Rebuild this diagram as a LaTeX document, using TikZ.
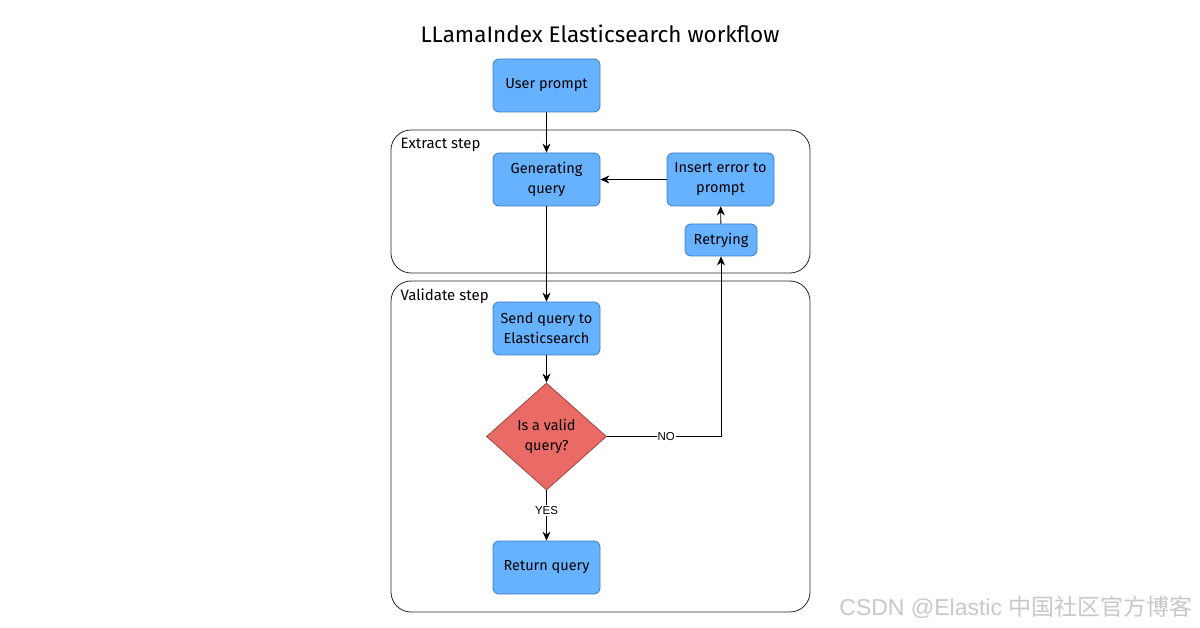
\documentclass[tikz,border=0pt]{standalone}
\usepackage{fontspec}
\setmainfont{Fira Sans}
\newfontfamily\labfont{Liberation Sans}
\newfontfamily\cjkfont{Noto Sans CJK SC}
\usetikzlibrary{shapes.geometric,arrows.meta}
\definecolor{boxfill}{HTML}{66B2FF}
\definecolor{boxline}{HTML}{3C7DC4}
\definecolor{dfill}{HTML}{EA6B66}
\definecolor{dline}{HTML}{A04540}
\definecolor{wm}{HTML}{C8C8C8}
\begin{document}
\begin{tikzpicture}[x=1pt,y=-1pt,
  procbox/.style={draw=boxline,fill=boxfill,rounded corners=6pt,line width=0.8pt,
    minimum width=107pt,minimum height=53pt,align=center,font=\fontsize{14.5}{20}\selectfont,inner sep=1pt},
  container/.style={draw=black!85,rounded corners=20pt,line width=0.8pt},
  flow/.style={draw=black,line width=0.8pt,-{Stealth[length=9pt,width=8pt]}},
  steplabel/.style={anchor=west,font=\fontsize{15}{18}\selectfont},
  edgelab/.style={fill=white,inner sep=1pt,font=\labfont\fontsize{11.5}{13}\selectfont}]
\useasboundingbox (0,0) rectangle (1200,628);
\fill[white] (0,0) rectangle (1200,628);
% title
\node[font=\fontsize{22.5}{27}\selectfont] (title) at (600,34) {LLamaIndex Elasticsearch workflow};
% containers
\draw[container] (391,130) rectangle (810,273);
\node[steplabel] (extractlab) at (397,145) {Extract step};
\draw[container] (391,281) rectangle (810,612);
\node[steplabel] (validlab) at (397,296) {Validate step};
% nodes
\node[procbox] (user) at (546.5,85.5) {\raisebox{-2pt}{User prompt}};
\node[procbox] (gen) at (546.5,179.5) {Generating\\query};
\node[procbox] (ins) at (720.5,179.5) {Insert error to\\prompt};
\node[procbox,minimum width=72pt,minimum height=32pt] (retry) at (721,240) {\raisebox{-1.5pt}{Retrying}};
\node[procbox] (send) at (546.5,328.5) {Send query to\\Elasticsearch};
\node[diamond,draw=dline,fill=dfill,line width=0.8pt,minimum width=120pt,minimum height=107pt,
  inner sep=0pt,align=center,font=\fontsize{14.5}{20}\selectfont] (valid) at (546.5,436.5) {Is a valid\\query?};
\node[procbox] (ret) at (546.5,567.5) {\raisebox{-2pt}{Return query}};
\coordinate (corner) at (721,436.5);
% connectors
\draw[flow] (user) -- (gen);
\draw[flow] (ins) -- (gen);
\draw[flow] (retry) -- (ins);
\draw[flow] (gen) -- (send);
\draw[flow] (send) -- (valid);
\draw[flow] (valid) -- node[edgelab,pos=0.4] (yes) {YES} (ret);
\draw[flow] (valid.east) -- node[edgelab,pos=0.52] (no) {NO} (corner) -- (retry);
% watermark
\node[anchor=east,text=wm,font=\fontsize{23}{26}\selectfont] (wmark) at (1196,607) {\labfont CSDN @Elastic \cjkfont 中国社区官方博客};
\end{tikzpicture}
\end{document}
